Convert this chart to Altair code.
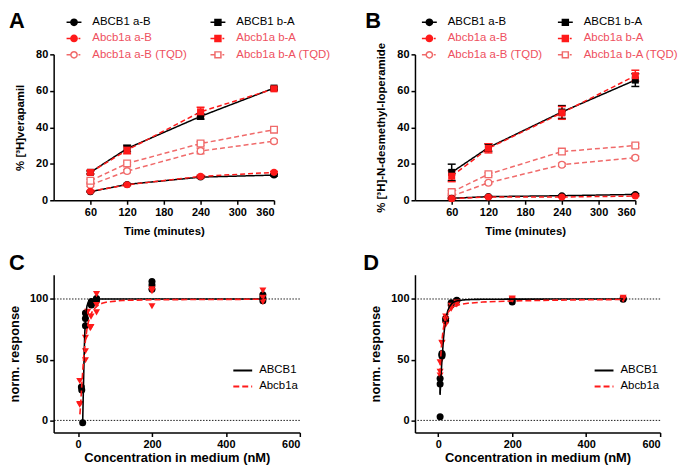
import altair as alt
import pandas as pd

# ---------------- data ----------------
TIME = [60, 120, 240, 360]
SERIES = ["ABCB1 a-B", "Abcb1a a-B", "Abcb1a a-B (TQD)",
          "ABCB1 b-A", "Abcb1a b-A", "Abcb1a b-A (TQD)"]

# Panel A: % [3H]verapamil (mean and SD per time point)
VER_ABCB1_AB = [4.7, 8.7, 12.7, 13.8]
VER_ABCB1A_AB = [4.9, 8.5, 13.1, 15.3]
VER_TQD_AB = [8.4, 16.0, 27.0, 32.4]
VER_ABCB1_BA = [15.3, 28.4, 46.0, 61.5]
VER_ABCB1A_BA = [15.3, 27.5, 48.5, 61.1]
VER_TQD_BA = [10.7, 20.2, 31.1, 38.7]
VER_SD_ABCB1_AB = [0.3, 0.5, 0.5, 0.5]
VER_SD_ABCB1A_AB = [0.4, 0.5, 0.6, 0.5]
VER_SD_TQD_AB = [0.8, 0.8, 1.5, 0.8]
VER_SD_ABCB1_BA = [0.8, 1.8, 1.5, 0.6]
VER_SD_ABCB1A_BA = [1.0, 2.0, 2.5, 0.8]
VER_SD_TQD_BA = [0.8, 0.8, 1.0, 1.0]

# Panel B: % [3H]-N-desmethyl-loperamide
LOP_ABCB1_AB = [1.1, 2.0, 2.5, 3.2]
LOP_ABCB1A_AB = [0.9, 1.8, 1.8, 2.3]
LOP_TQD_AB = [2.3, 9.6, 19.5, 23.3]
LOP_ABCB1_BA = [15.3, 28.9, 48.4, 65.9]
LOP_ABCB1A_BA = [13.2, 28.5, 47.9, 68.3]
LOP_TQD_BA = [4.5, 14.3, 26.7, 30.0]
LOP_SD_ABCB1_AB = [0.3, 0.3, 0.3, 0.4]
LOP_SD_ABCB1A_AB = [0.2, 0.2, 0.2, 0.2]
LOP_SD_TQD_AB = [0.5, 0.6, 0.8, 0.8]
LOP_SD_ABCB1_BA = [4.5, 2.0, 3.5, 3.5]
LOP_SD_ABCB1A_BA = [3.0, 2.5, 3.5, 3.0]
LOP_SD_TQD_BA = [0.8, 0.8, 1.5, 1.0]

# Panel C: normalised response vs concentration (verapamil)
GROUPS = ["ABCB1", "Abcb1a"]
C_ABCB1_X = [12.5, 10, 9, 20, 20, 20, 36, 36, 36, 50, 50, 50, 200, 200, 200, 500, 500, 500]
C_ABCB1_Y = [-2, 25, 27.5, 78, 84, 88.5, 95, 96, 98, 99, 100, 100.5, 108, 111.5, 114.5, 98.5, 101, 103.5]
C_ABCB1A_X = [4.5, 4.5, 4.5, 20, 20, 20, 26, 33, 35, 35, 50, 50, 50, 200, 200, 200, 500, 500, 500]
C_ABCB1A_Y = [12.9, 13.5, 32.5, 49.5, 57, 68, 89.5, 76, 77, 85.5, 89, 95, 104, 94, 106.5, 108, 97.6, 101, 107]
C_FIT_ABCB1_X = [12.5, 14, 15.5, 17, 18.5, 20, 22, 24, 27, 30, 35, 50, 100, 200, 500]
C_FIT_ABCB1_Y = [-2, 20, 40, 60, 74, 83, 90, 94, 97, 98.5, 99.5, 100, 100, 100, 100]
C_FIT_ABCB1A_X = [5, 7, 10, 13, 16, 20, 24, 28, 34, 40, 50, 65, 80, 120, 200, 500]
C_FIT_ABCB1A_Y = [5, 13, 29, 42, 55, 66, 75, 81, 87, 90.5, 94, 96.5, 97.6, 98.8, 99.4, 99.8]

# Panel D: normalised response vs concentration (N-desmethyl-loperamide)
D_ABCB1_X = [5, 5, 5, 10, 10, 10, 20, 20, 35, 35, 50, 50, 200, 200, 500, 500]
D_ABCB1_Y = [3, 30, 34.5, 53, 54, 55, 82, 84, 95, 97, 98.5, 99, 97.6, 99.5, 99.8, 100.5]
D_ABCB1A_X = [5, 5, 5, 10, 10, 20, 20, 20, 35, 35, 50, 50, 200, 200, 500, 500]
D_ABCB1A_Y = [37, 40, 47.8, 63.5, 64, 78.8, 82.8, 85.5, 92, 94.5, 95.5, 97, 99.5, 100.3, 99.5, 101]
D_ERR_X = [5]
D_ERR_LO = [21]
D_ERR_HI = [37]
D_FIT_ABCB1_X = [5, 7, 9, 11, 14, 18, 22, 26, 30, 36, 42, 50, 70, 100, 200, 500]
D_FIT_ABCB1_Y = [22, 33, 45, 54, 67, 79, 86, 90.5, 93.5, 96, 97.5, 98.4, 99.3, 99.7, 99.9, 100]
D_FIT_ABCB1A_X = [4.5, 6, 8, 10, 13, 17, 22, 28, 35, 45, 60, 80, 120, 200, 350, 500]
D_FIT_ABCB1A_Y = [38, 48, 59, 66, 74, 81, 86, 89.5, 92, 94, 95.5, 96.5, 97.5, 98.4, 99.2, 99.6]

REF_LINES = [0, 100]

# ---------------- styles ----------------
FONT = "Liberation Sans"
RED = "#ff1a1a"
PINK = "#f06a6a"
LABEL_RED = "#ee5060"
S_COLORS = ["#000000", RED, PINK, "#000000", RED, PINK]
S_DASH = [[1, 0], [5, 3], [5, 3], [1, 0], [5, 3], [5, 3]]
S_SHAPE = ["circle", "circle", "circle", "square", "square", "square"]
S_FILL = ["#000000", RED, "#ffffff", "#000000", RED, "#ffffff"]
FILLED = ["ABCB1 a-B", "Abcb1a a-B", "ABCB1 b-A", "Abcb1a b-A"]
OPEN = ["Abcb1a a-B (TQD)", "Abcb1a b-A (TQD)"]

CIRC = "M0.42,0A0.42,0.42,0,1,1,-0.42,0A0.42,0.42,0,1,1,0.42,0Z"
SQ = "M-0.4,-0.4H0.4V0.4H-0.4Z"
SOLID = "M-1,0H-0.42M0.42,0H1"
DASHED = "M-1,0H-0.42M0.6,0H0.85"
S_PATHS = [SOLID + CIRC, DASHED + CIRC, DASHED + CIRC, SOLID + SQ, DASHED + SQ, DASHED + SQ]

INDEP = dict(color="independent", shape="independent", fill="independent",
             strokeDash="independent")

TOP_W, TOP_H = 222, 147
BOT_H = 159


def long_time(series_vals, series_sd):
    rows = []
    for s, vals, sds in zip(SERIES, series_vals, series_sd):
        for t, v, e in zip(TIME, vals, sds):
            rows.append({"t": t, "v": v, "lo": v - e, "hi": v + e, "s": s})
    return pd.DataFrame(rows)


df_a = long_time(
    [VER_ABCB1_AB, VER_ABCB1A_AB, VER_TQD_AB, VER_ABCB1_BA, VER_ABCB1A_BA, VER_TQD_BA],
    [VER_SD_ABCB1_AB, VER_SD_ABCB1A_AB, VER_SD_TQD_AB, VER_SD_ABCB1_BA, VER_SD_ABCB1A_BA, VER_SD_TQD_BA])
df_b = long_time(
    [LOP_ABCB1_AB, LOP_ABCB1A_AB, LOP_TQD_AB, LOP_ABCB1_BA, LOP_ABCB1A_BA, LOP_TQD_BA],
    [LOP_SD_ABCB1_AB, LOP_SD_ABCB1A_AB, LOP_SD_TQD_AB, LOP_SD_ABCB1_BA, LOP_SD_ABCB1A_BA, LOP_SD_TQD_BA])


def panel_title(letter, dx, dy):
    return alt.TitleParams(letter, anchor="start", frame="group", fontSize=22,
                           font=FONT, fontWeight="bold", color="#000000",
                           dx=dx, dy=dy, offset=0)


def time_panel(df, letter, ytitle, legx, legy, colpad, tdx):
    base = alt.Chart(df)
    xs = alt.Scale(domain=[0, 360], nice=False)
    ys = alt.Scale(domain=[0, 80], nice=False)
    xax = alt.Axis(values=[60, 120, 180, 240, 300, 360], title="Time (minutes)",
                   titleFontSize=11.5, titlePadding=8)
    yax = alt.Axis(values=[0, 20, 40, 60, 80], title=ytitle, titleFontSize=11.5,
                   titlePadding=10)
    X = alt.X("t:Q", scale=xs, axis=xax)

    def Y(f):
        return alt.Y(f, scale=ys, axis=yax)

    col = alt.Color("s:N", scale=alt.Scale(domain=SERIES, range=S_COLORS), legend=None)
    shp = alt.Shape("s:N", scale=alt.Scale(domain=SERIES, range=S_SHAPE), legend=None)

    lines = base.mark_line(strokeWidth=1.5).encode(
        x=X, y=Y("v:Q"), color=col,
        strokeDash=alt.StrokeDash("s:N", scale=alt.Scale(domain=SERIES, range=S_DASH), legend=None))
    rules = base.mark_rule(strokeWidth=1.5).encode(x=X, y=Y("lo:Q"), y2="hi:Q", color=col)
    cap_lo = base.mark_tick(orient="horizontal", size=8, thickness=1.5, opacity=1).encode(
        x=X, y=Y("lo:Q"), color=col)
    cap_hi = base.mark_tick(orient="horizontal", size=8, thickness=1.5, opacity=1).encode(
        x=X, y=Y("hi:Q"), color=col)
    filled = base.transform_filter(alt.FieldOneOfPredicate(field="s", oneOf=FILLED)).mark_point(
        filled=True, size=50, opacity=1).encode(x=X, y=Y("v:Q"), color=col, shape=shp)
    openp = base.transform_filter(alt.FieldOneOfPredicate(field="s", oneOf=OPEN)).mark_point(
        filled=False, fill="#ffffff", size=45, strokeWidth=1.3, opacity=1).encode(
        x=X, y=Y("v:Q"), color=col, shape=shp)

    leg = alt.Legend(
        title=None, orient="none", legendX=legx, legendY=legy, columns=2,
        columnPadding=colpad, rowPadding=1.5, padding=0, symbolSize=225,
        symbolStrokeWidth=1.5, symbolFillColor="#ffffff", symbolStrokeColor="#000000",
        labelFont=FONT, labelFontSize=11.5, labelOffset=10, labelLimit=300,
        labelColor=alt.ExprRef("indexof(datum.label, 'ABCB1') === 0 ? '#000000' : '" + LABEL_RED + "'"))
    dummy = base.transform_filter("false").mark_point(
        filled=False, size=225, strokeWidth=1.5, opacity=1).encode(
        x=X, y=Y("v:Q"),
        color=alt.Color("s:N", scale=alt.Scale(domain=SERIES, range=S_COLORS), legend=leg),
        fill=alt.Fill("s:N", scale=alt.Scale(domain=SERIES, range=S_FILL), legend=leg),
        shape=alt.Shape("s:N", scale=alt.Scale(domain=SERIES, range=S_PATHS), legend=leg))

    return alt.layer(lines, rules, cap_lo, cap_hi, openp, filled, dummy).resolve_scale(
        **INDEP).properties(width=TOP_W, height=TOP_H, title=panel_title(letter, tdx, 19))


def dose_panel(px1, py1, px2, py2, fx1, fy1, fx2, fy2, letter, tdx, xmin, width, err=None):
    pts = pd.DataFrame({"c": px1 + px2, "r": py1 + py2,
                        "g": [GROUPS[0]] * len(px1) + [GROUPS[1]] * len(px2)})
    fits = pd.DataFrame({"c": fx1 + fx2, "r": fy1 + fy2,
                         "g": [GROUPS[0]] * len(fx1) + [GROUPS[1]] * len(fx2)})
    xs = alt.Scale(domain=[xmin, 600], nice=False)
    ys = alt.Scale(domain=[-10, 120], nice=False)
    xax = alt.Axis(values=[0, 200, 400, 600], title="Concentration in medium (nM)",
                   titleFontSize=13, titlePadding=2)
    yax = alt.Axis(values=[0, 50, 100], title="norm. response", titleFontSize=13, titlePadding=8)
    X = alt.X("c:Q", scale=xs, axis=xax)
    Y = alt.Y("r:Q", scale=ys, axis=yax)
    leg = alt.Legend(title=None, orient="none", legendX=180, legendY=86, padding=0,
                     symbolType="stroke", symbolSize=361, symbolStrokeWidth=2,
                     labelFont=FONT, labelFontSize=11.5, labelOffset=6, rowPadding=0)

    refs = alt.Chart(pd.DataFrame({"r": REF_LINES})).mark_rule(
        color="#000000", strokeWidth=0.9, strokeDash=[1.5, 1.5]).encode(y=Y)
    points = alt.Chart(pts).mark_point(filled=True, size=50, opacity=1).encode(
        x=X, y=Y,
        color=alt.Color("g:N", scale=alt.Scale(domain=GROUPS, range=["#000000", RED]), legend=None),
        shape=alt.Shape("g:N", scale=alt.Scale(domain=GROUPS, range=["circle", "triangle-down"]),
                        legend=None))
    curves = alt.Chart(fits).mark_line(strokeWidth=1.6).encode(
        x=X, y=Y,
        color=alt.Color("g:N", scale=alt.Scale(domain=GROUPS, range=["#000000", RED]), legend=leg),
        strokeDash=alt.StrokeDash("g:N", scale=alt.Scale(domain=GROUPS, range=[[1, 0], [6, 3]]),
                                  legend=leg))
    layers = [refs, points]
    if err is not None:
        edf = pd.DataFrame({"c": err[0], "r": err[1], "hi": err[2]})
        layers.append(alt.Chart(edf).mark_rule(color="#000000", strokeWidth=1.5).encode(
            x=X, y=Y, y2="hi:Q"))
    layers.append(curves)
    return alt.layer(*layers).resolve_scale(**INDEP).properties(
        width=width, height=BOT_H, title=panel_title(letter, tdx, 0))


pa = time_panel(df_a, "A", "% [³H]verapamil", 12, -41, 20, -45)
pb = time_panel(df_b, "B", "% [³H]-N-desmethyl-loperamide", 6, -41, 12, -50)
pc = dose_panel(C_ABCB1_X, C_ABCB1_Y, C_ABCB1A_X, C_ABCB1A_Y,
                C_FIT_ABCB1_X, C_FIT_ABCB1_Y, C_FIT_ABCB1A_X, C_FIT_ABCB1A_Y, "C", -45,
                -66, 248)
pd_ = dose_panel(D_ABCB1_X, D_ABCB1_Y, D_ABCB1A_X, D_ABCB1A_Y,
                 D_FIT_ABCB1_X, D_FIT_ABCB1_Y, D_FIT_ABCB1A_X, D_FIT_ABCB1A_Y, "D", -52,
                 -63, 247, err=(D_ERR_X, D_ERR_LO, D_ERR_HI))

chart = alt.concat(
    pa, pb, pc, pd_, columns=2, spacing={"row": 75, "column": 116}, bounds="flush"
).resolve_scale(**INDEP).properties(padding=0).configure_view(stroke=None).configure_axis(
    domainColor="#000000", domainWidth=1.5, tickColor="#000000", tickWidth=1.5, tickSize=4,
    labelFont=FONT, labelFontWeight="bold", labelFontSize=11, labelColor="#000000",
    titleFont=FONT, titleFontWeight="bold", titleColor="#000000", grid=False, labelPadding=2
).configure_legend(labelColor="#000000")

chart.save("out.html", embed_options={"renderer": "svg", "actions": False})
